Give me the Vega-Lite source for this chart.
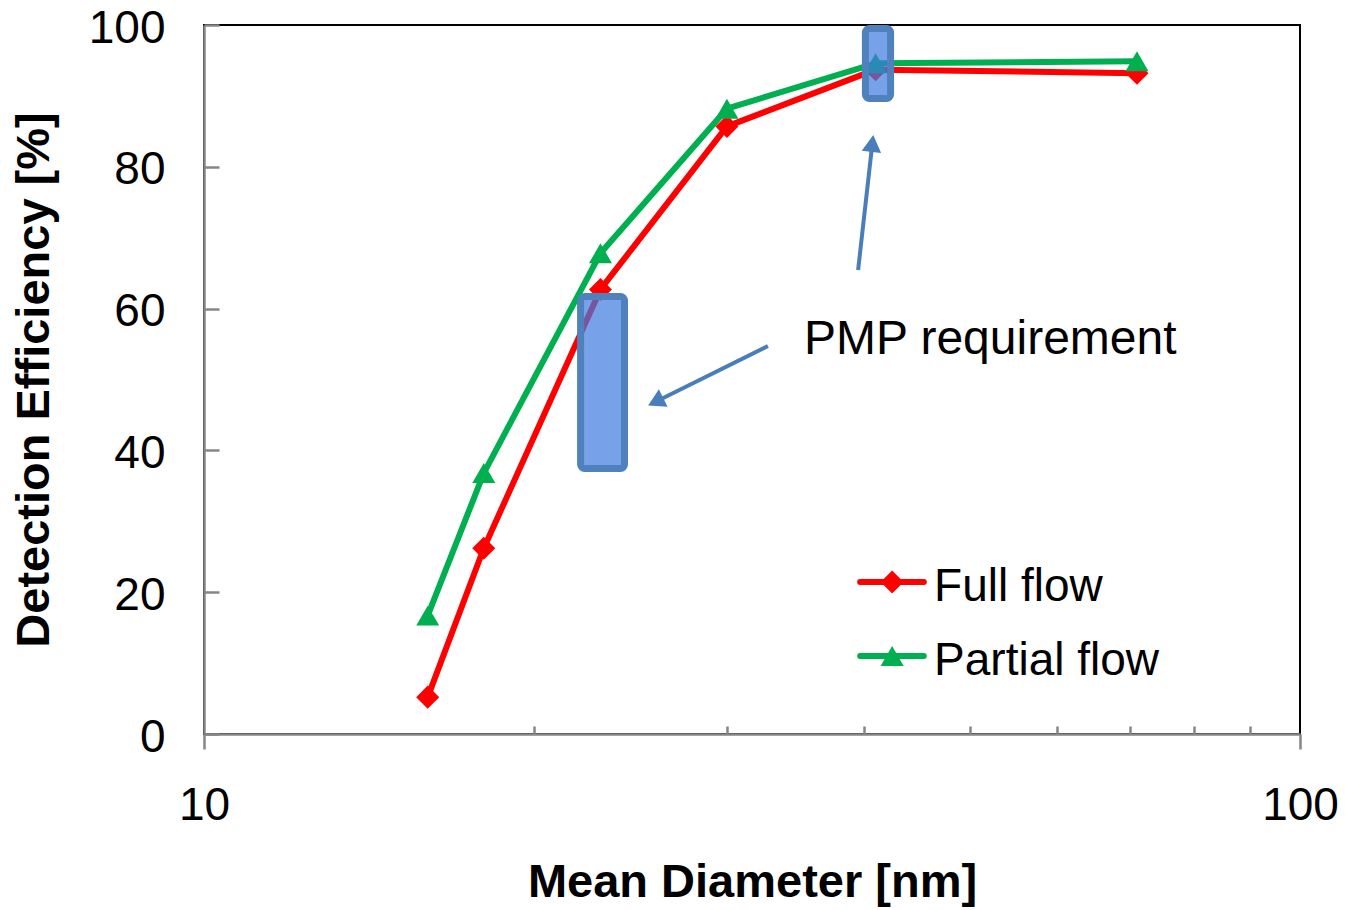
{
  "$schema": "https://vega.github.io/schema/vega-lite/v6.json",
  "width": 1096,
  "height": 709,
  "autosize": {"type": "none"},
  "padding": {"left": 204, "top": 25, "right": 45, "bottom": 176},
  "background": "white",
  "config": {
    "font": "Liberation Sans",
    "view": {"stroke": "#000000", "strokeWidth": 2},
    "axis": {
      "domainColor": "#868686",
      "domainWidth": 2.5,
      "tickColor": "#868686",
      "tickWidth": 2.5,
      "labelFont": "Liberation Sans",
      "labelFontSize": 46,
      "labelColor": "#000000",
      "titleFont": "Liberation Sans",
      "titleFontSize": 47,
      "titleFontWeight": "bold",
      "titleColor": "#000000"
    }
  },
  "datasets": {
    "curves": [
      {"series": "Full flow", "d": 16, "eff": 5.2},
      {"series": "Full flow", "d": 18, "eff": 26.2},
      {"series": "Full flow", "d": 23, "eff": 62.7},
      {"series": "Full flow", "d": 30, "eff": 85.7},
      {"series": "Full flow", "d": 41, "eff": 93.7},
      {"series": "Full flow", "d": 71, "eff": 93.2},
      {"series": "Partial flow", "d": 16, "eff": 16.7},
      {"series": "Partial flow", "d": 18, "eff": 36.8},
      {"series": "Partial flow", "d": 23, "eff": 67.8},
      {"series": "Partial flow", "d": 30, "eff": 88.2},
      {"series": "Partial flow", "d": 41, "eff": 94.6},
      {"series": "Partial flow", "d": 71, "eff": 94.9}
    ],
    "legendItems": [
      {"series": "Full flow", "ly": 21.44},
      {"series": "Partial flow", "ly": 11.0}
    ],
    "boxes": [
      {"d1": 22.06, "d2": 24.19, "e1": 37.45, "e2": 61.71},
      {"d1": 40.13, "d2": 42.31, "e1": 89.63, "e2": 99.5}
    ],
    "arrows": [
      {"id": 1, "d1": 32.70, "e1": 54.72, "d2": 25.83, "e2": 46.87},
      {"id": 2, "d1": 39.52, "e1": 65.44, "d2": 40.72, "e2": 83.30}
    ],
    "notes": [
      {"text": "PMP requirement", "d": 35.27, "eff": 53.6}
    ]
  },
  "layer": [
    {
      "data": {"name": "curves"},
      "mark": {"type": "line", "strokeWidth": 6, "strokeJoin": "round"},
      "encoding": {
        "x": {
          "field": "d",
          "type": "quantitative",
          "scale": {"type": "log", "domain": [10, 100], "nice": false},
          "axis": {
            "title": "Mean Diameter [nm]",
            "values": [10, 20, 30, 40, 50, 60, 70, 80, 90, 100],
            "labelExpr": "datum.value == 10 || datum.value == 100 ? datum.value : ''",
            "tickSize": 15,
            "tickOpacity": {"condition": {"test": "datum.value == 10 || datum.value == 100", "value": 1}, "value": 0},
            "grid": true,
            "gridColor": "#868686",
            "gridWidth": 2.5,
            "gridDash": [0, 701, 8, 3000],
            "gridOpacity": {"condition": {"test": "datum.value == 10 || datum.value == 100", "value": 0}, "value": 1},
            "labelPadding": 34,
            "labelFlush": false,
            "titlePadding": 31
          }
        },
        "y": {
          "field": "eff",
          "type": "quantitative",
          "scale": {"domain": [0, 100], "nice": false},
          "axis": {
            "title": "Detection Efficiency [%]",
            "values": [0, 20, 40, 60, 80, 100],
            "tickSize": -15,
            "labelPadding": 54,
            "labelOffset": 3,
            "grid": false,
            "titlePadding": 30
          }
        },
        "color": {
          "field": "series",
          "type": "nominal",
          "scale": {"domain": ["Full flow", "Partial flow"], "range": ["#FF0000", "#00B050"]},
          "legend": null
        }
      }
    },
    {
      "data": {"name": "curves"},
      "transform": [{"filter": "datum.series == 'Full flow'"}],
      "mark": {"type": "point", "shape": "diamond", "filled": true, "opacity": 1, "size": 530},
      "encoding": {
        "x": {"field": "d", "type": "quantitative"},
        "y": {"field": "eff", "type": "quantitative"},
        "color": {"field": "series", "type": "nominal", "legend": null}
      }
    },
    {
      "data": {"name": "curves"},
      "transform": [{"filter": "datum.series == 'Partial flow'"}],
      "mark": {"type": "point", "shape": "triangle-up", "filled": true, "opacity": 1, "size": 530},
      "encoding": {
        "x": {"field": "d", "type": "quantitative"},
        "y": {"field": "eff", "type": "quantitative"},
        "color": {"field": "series", "type": "nominal", "legend": null}
      }
    },
    {
      "data": {"name": "legendItems"},
      "mark": {"type": "rule", "strokeWidth": 6, "strokeCap": "round"},
      "encoding": {
        "x": {"datum": 39.69, "type": "quantitative"},
        "x2": {"datum": 45.37},
        "y": {"field": "ly", "type": "quantitative"},
        "color": {"field": "series", "type": "nominal", "legend": null}
      }
    },
    {
      "data": {"name": "legendItems"},
      "transform": [{"filter": "datum.series == 'Full flow'"}],
      "mark": {"type": "point", "shape": "diamond", "filled": true, "opacity": 1, "size": 530},
      "encoding": {
        "x": {"datum": 42.45, "type": "quantitative"},
        "y": {"field": "ly", "type": "quantitative"},
        "color": {"field": "series", "type": "nominal", "legend": null}
      }
    },
    {
      "data": {"name": "legendItems"},
      "transform": [{"filter": "datum.series == 'Partial flow'"}],
      "mark": {"type": "point", "shape": "triangle-up", "filled": true, "opacity": 1, "size": 530},
      "encoding": {
        "x": {"datum": 42.45, "type": "quantitative"},
        "y": {"field": "ly", "type": "quantitative"},
        "color": {"field": "series", "type": "nominal", "legend": null}
      }
    },
    {
      "data": {"name": "legendItems"},
      "mark": {"type": "text", "align": "left", "baseline": "alphabetic", "dy": 19, "fontSize": 46, "font": "Liberation Sans", "color": "#000000"},
      "encoding": {
        "x": {"datum": 46.36, "type": "quantitative"},
        "y": {"field": "ly", "type": "quantitative"},
        "text": {"field": "series"}
      }
    },
    {
      "data": {"name": "boxes"},
      "mark": {"type": "rect", "fill": "#3D7BE0", "fillOpacity": 0.7, "stroke": "#4F81BD", "strokeWidth": 7, "cornerRadius": 4},
      "encoding": {
        "x": {"field": "d1", "type": "quantitative"},
        "x2": {"field": "d2"},
        "y": {"field": "e1", "type": "quantitative"},
        "y2": {"field": "e2"}
      }
    },
    {
      "data": {"name": "arrows"},
      "mark": {"type": "rule", "color": "#4A7EBB", "strokeWidth": 4},
      "encoding": {
        "x": {"field": "d1", "type": "quantitative"},
        "x2": {"field": "d2"},
        "y": {"field": "e1", "type": "quantitative"},
        "y2": {"field": "e2"}
      }
    },
    {
      "data": {"name": "arrows"},
      "transform": [{"filter": "datum.id == 1"}],
      "mark": {"type": "point", "shape": "triangle-up", "filled": true, "color": "#4A7EBB", "opacity": 1, "size": 380, "angle": 243.6},
      "encoding": {
        "x": {"field": "d2", "type": "quantitative"},
        "y": {"field": "e2", "type": "quantitative"}
      }
    },
    {
      "data": {"name": "arrows"},
      "transform": [{"filter": "datum.id == 2"}],
      "mark": {"type": "point", "shape": "triangle-up", "filled": true, "color": "#4A7EBB", "opacity": 1, "size": 380, "angle": 6.4},
      "encoding": {
        "x": {"field": "d2", "type": "quantitative"},
        "y": {"field": "e2", "type": "quantitative"}
      }
    },
    {
      "data": {"name": "notes"},
      "mark": {"type": "text", "align": "left", "baseline": "alphabetic", "fontSize": 48, "font": "Liberation Sans", "color": "#000000"},
      "encoding": {
        "x": {"field": "d", "type": "quantitative"},
        "y": {"field": "eff", "type": "quantitative"},
        "text": {"field": "text"}
      }
    }
  ]
}
